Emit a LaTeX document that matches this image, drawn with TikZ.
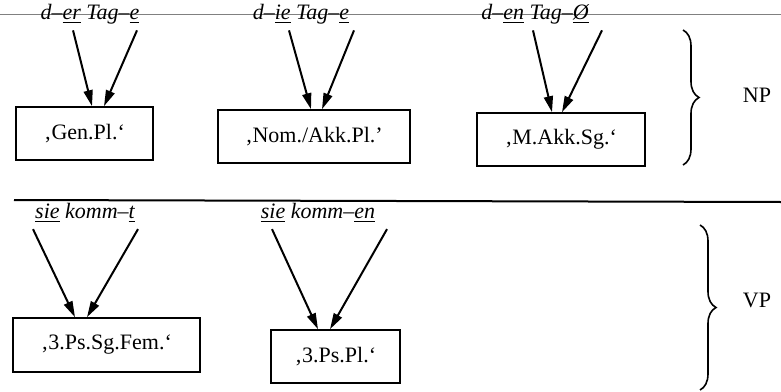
\documentclass[tikz,border=0pt]{standalone}
\usepackage{fontspec}
\setmainfont{Liberation Serif}
\usetikzlibrary{arrows.meta, positioning, decorations.pathreplacing}
\tikzstyle{gloss} = [rectangle, draw, line width=0.8pt, inner sep=0pt,
    font=\fontsize{11}{13}\selectfont]
\tikzstyle{form} = [inner sep=1pt, font=\fontsize{11}{13}\selectfont\itshape]
\tikzstyle{line} = [draw, line width=1pt, -{Triangle[length=8pt,width=4.5pt]}]
\tikzstyle{phrase} = [draw, line width=0.8pt, decorate, decoration={brace, amplitude=8pt}]

\begin{document}
\begin{tikzpicture}[x=0.5pt, y=-0.5pt]
		\useasboundingbox (0,0) rectangle (781,391);
		\draw [gray, line width=0.4pt] (0,14) -- (781,14);
		% NP row
		\node [gloss, minimum width=68.5pt, minimum height=26.5pt] (gen) at (84.5,133.5) {‚Gen.Pl.‘};
		\node [gloss, minimum width=96pt, minimum height=26.5pt] (nom) at (314,136.5) {‚Nom./Akk.Pl.’};
		\node [gloss, minimum width=84pt, minimum height=26.5pt] (akk) at (561,139.5) {‚M.Akk.Sg.‘};
		\node [form] (der) at (90,14) {d–\underline{er} Tag–\underline{e}};
		\node [form] (die) at (301,14) {d–\underline{ie} Tag–\underline{e}};
		\node [form] (den) at (535,14) {d–\underline{en} Tag–\underline{Ø}};
		
		\path[line] ([xshift=-8.5pt,yshift=-2pt]der.south) -- ([xshift=3.75pt]gen.north);
		\path[line] ([xshift=23.5pt,yshift=-2pt]der.south) -- ([xshift=9.75pt]gen.north);
		\path[line] ([xshift=-6pt,yshift=-2pt]die.south) -- ([xshift=-1.5pt]nom.north);
		\path[line] ([xshift=26.5pt,yshift=-2pt]die.south) -- ([xshift=4pt]nom.north);
		\path[line] ([xshift=-1pt,yshift=-2pt]den.south) -- ([xshift=-4.5pt]akk.north);
		\path[line] ([xshift=33.5pt,yshift=-2pt]den.south) -- ([xshift=0.5pt]akk.north);
		
		\draw [phrase] (683,30) -- (683,165);
		\node [gloss, draw=none] (np) at (757,95) {NP};
		
		\draw [line width=1pt] (14,200) -- (781,202);
		
		% VP row
		\node [gloss, minimum width=93.5pt, minimum height=27pt] (fem) at (106.5,345) {‚3.Ps.Sg.Fem.‘};
		\node [gloss, minimum width=64.5pt, minimum height=26.5pt] (pl) at (335.5,356.5) {‚3.Ps.Pl.‘};
		\node [form] (siet) at (85,213) {\underline{sie} komm–\underline{t}};
		\node [form] (sieen) at (318,213) {\underline{sie} komm–\underline{en}};
		
		\path[line] ([xshift=-26pt,yshift=-2pt]siet.south) -- ([xshift=-15.75pt]fem.north);
		\path[line] ([xshift=26.5pt,yshift=-2pt]siet.south) -- ([xshift=-9.75pt]fem.north);
		\path[line] ([xshift=-23pt,yshift=-2pt]sieen.south) -- ([xshift=-8.75pt]pl.north);
		\path[line] ([xshift=34.5pt,yshift=-2pt]sieen.south) -- ([xshift=-2.75pt]pl.north);
		
		\draw [phrase] (700,225) -- (700,390);
		\node [gloss, draw=none] (vp) at (757,300) {VP};
	\end{tikzpicture}
\end{document}
